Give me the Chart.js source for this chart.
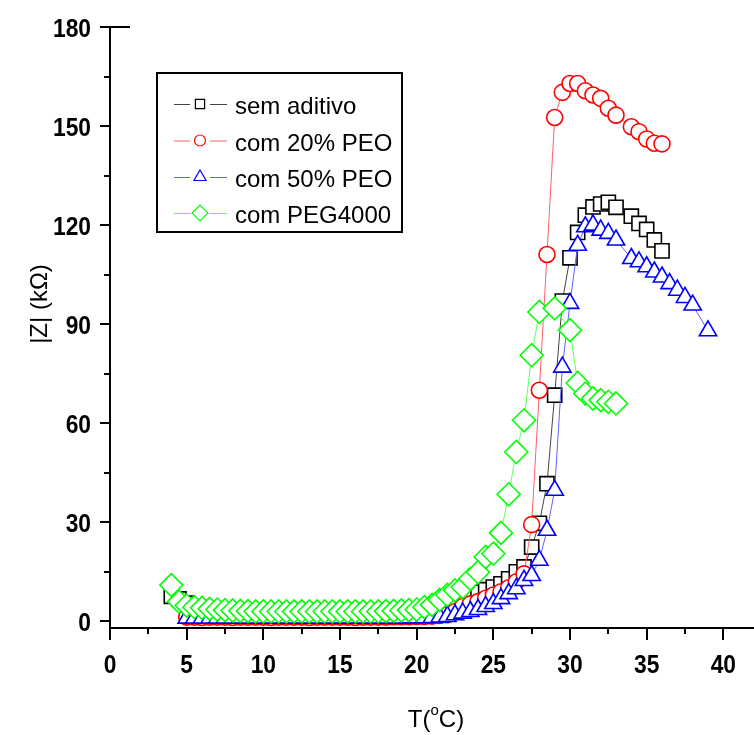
<!DOCTYPE html>
<html><head><meta charset="utf-8">
<script src="https://cdn.jsdelivr.net/npm/chart.js@4.4.0/dist/chart.umd.min.js"></script>
<style>html,body{margin:0;padding:0;background:#fff}canvas{display:block}</style>
</head><body>
<canvas id="c" width="754" height="735"></canvas>
<script>
// ---- data ----
const xTicks = [0, 5, 10, 15, 20, 25, 30, 35, 40];
const xMinor = [2.5, 7.5, 12.5, 17.5, 22.5, 27.5, 32.5, 37.5];
const yTicks = [0, 30, 60, 90, 120, 150, 180];
const yMinor = [15, 45, 75, 105, 135, 165];
const seriesNames = ['sem aditivo', 'com 20% PEO', 'com 50% PEO', 'com PEG4000'];

const tSem = [4,4.5,5,5.5,6,6.5,7,7.5,8,8.5,9,9.5,10,10.5,11,11.5,12,12.5,13,13.5,14,14.5,15,15.5,16,16.5,17,17.5,18,18.5,19,19.5,20,20.5,21,21.5,22,22.5,23,23.5,24,24.5,25,25.5,26,26.5,27,27.5,28,28.5,29,29.5,30,30.5,31,31.5,32,32.5,33,34,34.5,35,35.5,36];
const zSem = [7.6,6.8,5.5,4.2,3.8,3.5,3.4,3.3,3.3,3.3,3.2,3.3,3.3,3.3,3.2,3.3,3.3,3.2,3.3,3.3,3.3,3.2,3.3,3.3,3.3,3.3,3.2,3.3,3.3,3.3,3.3,3.3,3.4,3.4,3.5,3.6,4.5,5.9,7.0,7.9,8.9,9.6,10.4,11.4,12.9,15.0,16.5,22.5,29.7,41.7,68.5,97.0,110.1,117.8,123.0,125.5,126.4,126.9,125.4,122.7,120.5,118.7,115.5,112.2];

const tPeo20 = [5,5.5,6,6.5,7,7.5,8,8.5,9,9.5,10,10.5,11,11.5,12,12.5,13,13.5,14,14.5,15,15.5,16,16.5,17,17.5,18,18.5,19,19.5,20,20.5,21,21.5,22,22.5,23,23.5,24,24.5,25,25.5,26,26.5,27,27.5,28,28.5,29,29.5,30,30.5,31,31.5,32,32.5,33,34,34.5,35,35.5,36];
const zPeo20 = [1.3,1.3,1.2,1.3,1.3,1.3,1.2,1.3,1.3,1.3,1.3,1.2,1.3,1.3,1.3,1.3,1.2,1.3,1.3,1.3,1.3,1.3,1.2,1.3,1.3,1.3,1.3,1.4,1.4,1.4,1.5,1.5,1.6,1.8,2.0,3.0,4.5,5.3,6.0,7.0,8.0,9.0,10.2,12.0,14.4,29.3,70.0,111.1,152.6,160.2,162.9,162.9,160.7,159.4,158.4,155.4,153.3,149.8,148.3,146.1,144.8,144.6];

const tPeo50 = [5,5.5,6,6.5,7,7.5,8,8.5,9,9.5,10,10.5,11,11.5,12,12.5,13,13.5,14,14.5,15,15.5,16,16.5,17,17.5,18,18.5,19,19.5,20,20.5,21,21.5,22,22.5,23,23.5,24,24.5,25,25.5,26,26.5,27,27.5,28,28.5,29,29.5,30,30.5,31,31.5,32,32.5,33,34,34.5,35,35.5,36,36.5,37,37.5,38,39];
const zPeo50 = [1.0,1.0,1.0,1.0,1.0,1.0,1.0,1.0,1.0,1.0,1.0,1.0,1.0,1.0,1.0,1.0,1.0,1.0,1.0,1.0,1.0,1.0,1.0,1.0,1.0,1.0,1.0,1.0,1.0,1.1,1.1,1.1,1.2,1.3,1.5,2.0,2.5,3.0,3.6,4.5,5.4,6.9,8.4,9.9,12.4,13.9,18.5,27.6,39.7,77.0,96.3,113.9,119.5,120.0,118.5,117.5,115.5,109.9,108.9,107.4,105.8,104.3,102.3,100.3,98.1,95.8,88.0];

const tPeg = [4,4.5,5,5.5,6,6.5,7,7.5,8,8.5,9,9.5,10,10.5,11,11.5,12,12.5,13,13.5,14,14.5,15,15.5,16,16.5,17,17.5,18,18.5,19,19.5,20,20.5,21,21.5,22,22.5,23,23.5,24,24.5,25,25.5,26,26.5,27,27.5,28,29,30,30.5,31,31.5,32,32.5,33];
const zPeg = [11.0,6.0,4.8,4.3,4.1,3.8,3.6,3.4,3.3,3.2,3.1,3.0,3.0,3.0,3.0,3.0,3.0,3.0,3.0,3.0,3.0,3.0,3.0,3.0,3.0,3.0,3.0,3.0,3.1,3.2,3.3,3.4,3.6,4.3,5.0,6.5,8.0,9.4,10.4,12.9,14.9,19.5,20.5,26.8,38.5,51.3,60.9,80.6,93.7,94.8,88.2,72.2,69.0,67.5,67.0,66.5,66.0];

// ---- styles ----
const markerColors = ['#000000', '#ff0000', '#0000ff', '#00ff00'];
const lineColors = ['#444444', '#ff6060', '#6060ff', '#60ff60'];
const pointStyles = ['rect', 'circle', 'triangle', 'rectRot'];
const pointRadii = [10, 8, 10, 11.5];
const orders = [3, 2, 1, 0];

const toPts = (t, z) => t.map((v, i) => ({x: v, y: z[i]}));
const allData = [toPts(tSem, zSem), toPts(tPeo20, zPeo20), toPts(tPeo50, zPeo50), toPts(tPeg, zPeg)];

const datasets = allData.map((d, i) => ({
  label: seriesNames[i],
  data: d,
  showLine: true,
  borderColor: lineColors[i],
  borderWidth: 1,
  pointStyle: pointStyles[i],
  pointRadius: pointRadii[i],
  pointBorderColor: markerColors[i],
  pointBackgroundColor: '#ffffff',
  pointBorderWidth: 1.6,
  order: orders[i]
}));

const textFont = '"Liberation Sans", Arial, sans-serif';
const tickFontCss = 'bold 26.5px "Liberation Sans", Arial, sans-serif';
const squeeze = 0.86;

const deco = {
  id: 'deco',
  afterDraw(chart) {
    const ctx = chart.ctx, xs = chart.scales.x, ys = chart.scales.y, a = chart.chartArea;
    ctx.save();
    ctx.strokeStyle = '#000';
    ctx.lineWidth = 2;
    ctx.beginPath();
    xTicks.forEach(v => { const p = Math.round(xs.getPixelForValue(v)); ctx.moveTo(p, a.bottom); ctx.lineTo(p, a.bottom + 12); });
    xMinor.forEach(v => { const p = Math.round(xs.getPixelForValue(v)); ctx.moveTo(p, a.bottom); ctx.lineTo(p, a.bottom + 6); });
    yTicks.forEach(v => { const p = Math.round(ys.getPixelForValue(v)); ctx.moveTo(a.left, p); ctx.lineTo(a.left - 10, p); });
    yMinor.forEach(v => { const p = Math.round(ys.getPixelForValue(v)); ctx.moveTo(a.left, p); ctx.lineTo(a.left - 6, p); });
    const top = Math.round(ys.getPixelForValue(yTicks[yTicks.length - 1]));
    ctx.moveTo(a.left - 10, top); ctx.lineTo(a.left + 20, top);
    ctx.stroke();

    // tick labels (bold, slightly condensed)
    ctx.fillStyle = '#000';
    ctx.font = tickFontCss;
    ctx.textBaseline = 'alphabetic';
    yTicks.forEach(v => {
      const p = ys.getPixelForValue(v);
      ctx.save();
      ctx.translate(91, p + 9.5);
      ctx.scale(squeeze, 1);
      ctx.textAlign = 'right';
      ctx.fillText(String(v), 0, 0);
      ctx.restore();
    });
    xTicks.forEach(v => {
      const p = xs.getPixelForValue(v);
      ctx.save();
      ctx.translate(p, 673);
      ctx.scale(squeeze, 1);
      ctx.textAlign = 'center';
      ctx.fillText(String(v), 0, 0);
      ctx.restore();
    });

    // axis titles
    ctx.font = '24px ' + textFont;
    const p1 = 'T(', p3 = 'C)';
    const w1 = ctx.measureText(p1).width, w3 = ctx.measureText(p3).width;
    ctx.font = '15px ' + textFont;
    const w2 = ctx.measureText('o').width;
    const total = w1 + w2 + w3;
    const x0 = 436 - total / 2;
    const base = 727;
    ctx.textAlign = 'left';
    ctx.font = '24px ' + textFont;
    ctx.fillText(p1, x0, base);
    ctx.font = '15px ' + textFont;
    ctx.fillText('o', x0 + w1, base - 12);
    ctx.font = '24px ' + textFont;
    ctx.fillText(p3, x0 + w1 + w2, base);
    ctx.save();
    ctx.translate(40, 304);
    ctx.rotate(-Math.PI / 2);
    ctx.textAlign = 'center';
    ctx.textBaseline = 'middle';
    ctx.fillText('|Z| (k\u03A9)', 0, 0);
    ctx.restore();

    // legend
    ctx.lineWidth = 2;
    ctx.strokeStyle = '#000';
    ctx.strokeRect(157, 73, 245, 159);
    const rows = [104, 140.5, 177, 213];
    const lgR = [6.5, 5.5, 7, 8];
    rows.forEach((y, i) => {
      ctx.strokeStyle = lineColors[i];
      ctx.lineWidth = 1;
      ctx.beginPath();
      ctx.moveTo(174, y + 0.5); ctx.lineTo(190, y + 0.5);
      ctx.moveTo(210, y + 0.5); ctx.lineTo(227, y + 0.5);
      ctx.stroke();
      ctx.strokeStyle = markerColors[i];
      ctx.fillStyle = '#fff';
      ctx.lineWidth = 1.2;
      Chart.helpers.drawPoint(ctx, {pointStyle: pointStyles[i], radius: lgR[i], rotation: 0, borderWidth: 1.2}, 200, y);
      ctx.fillStyle = '#000';
      ctx.font = '24px ' + textFont;
      ctx.textAlign = 'left';
      ctx.textBaseline = 'alphabetic';
      ctx.fillText(seriesNames[i], 235, y + 10);
    });
    ctx.restore();
  }
};

new Chart(document.getElementById('c'), {
  type: 'scatter',
  data: {datasets},
  plugins: [deco],
  options: {
    responsive: false,
    animation: false,
    devicePixelRatio: 1,
    layout: {autoPadding: false, padding: {top: 27, left: 0, right: 0, bottom: 0}},
    plugins: {legend: {display: false}, tooltip: {enabled: false}},
    elements: {line: {tension: 0}},
    scales: {
      x: {
        type: 'linear', min: 0, max: 42,
        grid: {display: false, drawTicks: false},
        border: {display: true, color: '#000', width: 2},
        ticks: {display: false},
        afterBuildTicks(s) { s.ticks = xTicks.map(v => ({value: v})); },
        afterFit(s) { s.height = 107; s.paddingLeft = 0; s.paddingRight = 0; s.paddingTop = 0; s.paddingBottom = 0; }
      },
      y: {
        type: 'linear', min: -2, max: 180,
        grid: {display: false, drawTicks: false},
        border: {display: true, color: '#000', width: 2},
        ticks: {display: false},
        afterBuildTicks(s) { s.ticks = yTicks.map(v => ({value: v})); },
        afterFit(s) { s.width = 110; s.paddingLeft = 0; s.paddingRight = 0; s.paddingTop = 0; s.paddingBottom = 0; }
      }
    }
  }
});
</script>
</body></html>
